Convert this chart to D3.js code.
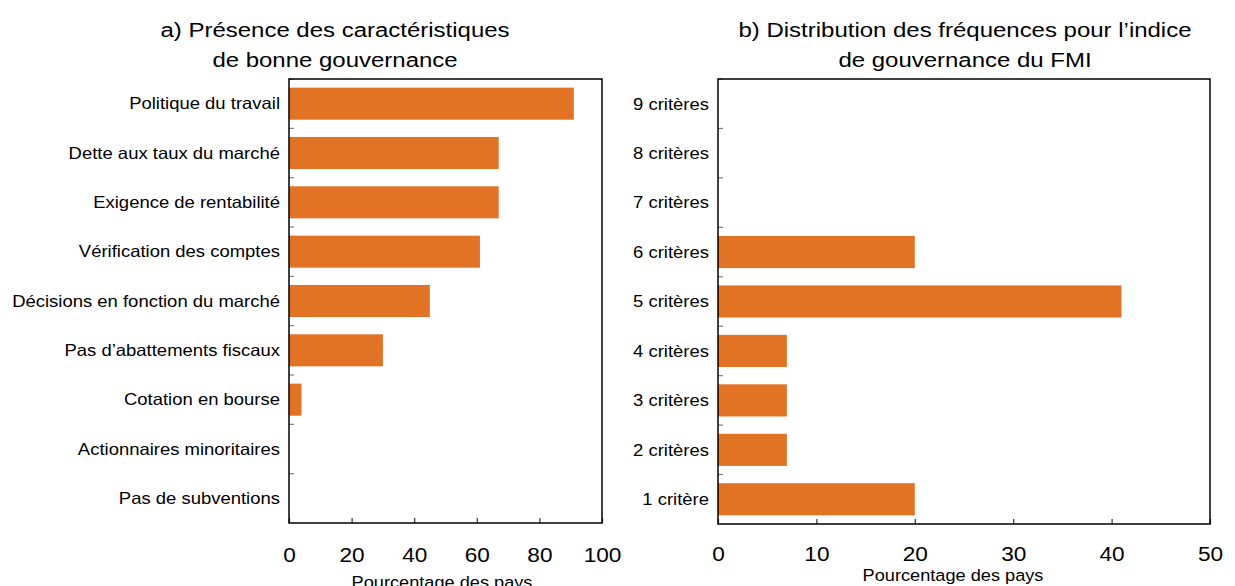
<!DOCTYPE html>
<html>
<head>
<meta charset="utf-8">
<script src="https://cdn.jsdelivr.net/npm/d3@7"></script>
<style>
  body { margin: 0; background: #fff; }
  svg { display: block; font-family: "Liberation Sans", Arial, sans-serif; }
</style>
</head>
<body>
<svg id="chart" width="1235" height="586"></svg>
<script>
// ---- Data ----
const catsA = ["Politique du travail", "Dette aux taux du marché", "Exigence de rentabilité",
  "Vérification des comptes", "Décisions en fonction du marché", "Pas d’abattements fiscaux",
  "Cotation en bourse", "Actionnaires minoritaires", "Pas de subventions"];
const valsA = [91, 67, 67, 61, 45, 30, 4, 0, 0];
const ticksA = [0, 20, 40, 60, 80, 100];

const catsB = ["9 critères", "8 critères", "7 critères", "6 critères", "5 critères",
  "4 critères", "3 critères", "2 critères", "1 critère"];
const valsB = [0, 0, 0, 20, 41, 7, 7, 7, 20];
const ticksB = [0, 10, 20, 30, 40, 50];

const titleA = ["a) Présence des caractéristiques", "de bonne gouvernance"];
const titleB = ["b) Distribution des fréquences pour l’indice", "de gouvernance du FMI"];
const xLabel = "Pourcentage des pays";

const barColor = "#e27224";
const svg = d3.select("#chart");

// text with horizontal stretch (reference glyphs are wider than tall)
function stretchedText(parent, x, y, txt, size, sx, anchor) {
  return parent.append("text")
    .attr("transform", `translate(${x},${y}) scale(${sx},1)`)
    .attr("text-anchor", anchor)
    .attr("font-size", size)
    .attr("fill", "#000")
    .text(txt);
}

function panel(cfg) {
  const g = svg.append("g");
  const x = d3.scaleLinear().domain(cfg.domain).range([cfg.x0, cfg.x1]);
  const y = d3.scaleBand().domain(cfg.cats).range([cfg.y0, cfg.y1]).paddingInner(0.35).paddingOuter(0.175);

  // bars
  g.selectAll("rect.bar").data(cfg.cats.map((c, i) => ({c, v: cfg.vals[i]})))
    .enter().append("rect")
    .attr("x", x(0))
    .attr("y", d => y(d.c))
    .attr("width", d => x(d.v) - x(0))
    .attr("height", y.bandwidth())
    .attr("fill", barColor);

  // y boundary ticks (inside)
  const step = y.step();
  const bounds = d3.range(cfg.cats.length).map(i => cfg.y0 + i * step);
  g.selectAll("line.yt").data(bounds).enter().append("line")
    .attr("x1", cfg.x0).attr("x2", cfg.x0 + 5)
    .attr("y1", d => d).attr("y2", d => d)
    .attr("stroke", "#7f7f7f").attr("stroke-width", 1.2);

  // category labels
  cfg.cats.forEach(c => {
    stretchedText(g, cfg.x0 - 9, y(c) + y.bandwidth() / 2 + 5.8, c, 16.5, 1.12, "end");
  });

  // x axis
  const ax = d3.axisBottom(x).tickValues(cfg.ticks).tickSize(-5).tickPadding(0).tickFormat(d3.format("d"));
  const axg = g.append("g").attr("transform", `translate(0,${cfg.y1})`).call(ax);
  axg.select(".domain").remove();
  axg.selectAll(".tick line").attr("stroke", "#333").attr("stroke-width", 1.2);
  axg.selectAll(".tick text").attr("font-size", 19.5).attr("fill", "#000")
    .attr("font-family", "Liberation Sans, Arial, sans-serif")
    .attr("y", null).attr("dy", null)
    .attr("transform", `translate(0,${cfg.tickBase - cfg.y1}) scale(1.16,1)`);

  // frame
  g.append("rect")
    .attr("x", cfg.x0).attr("y", cfg.y0)
    .attr("width", cfg.x1 - cfg.x0).attr("height", cfg.y1 - cfg.y0)
    .attr("fill", "none").attr("stroke", "#000").attr("stroke-width", 1.5);

  // x label
  stretchedText(g, cfg.xlabX, cfg.xlabY, xLabel, 17, 1.07, "middle");

  // title
  cfg.title.forEach((t, i) => {
    stretchedText(g, cfg.titleX, 37 + i * 29.5, t, 19.5, 1.23, "middle");
  });
}

panel({cats: catsA, vals: valsA, ticks: ticksA, domain: [0, 100],
  x0: 289, x1: 602, y0: 79, y1: 523, tickBase: 561.5,
  xlabX: 442, xlabY: 588, titleX: 335, title: titleA});
panel({cats: catsB, vals: valsB, ticks: ticksB, domain: [0, 50],
  x0: 718, x1: 1210, y0: 79, y1: 524, tickBase: 561,
  xlabX: 953, xlabY: 581, titleX: 965, title: titleB});
</script>
</body>
</html>
